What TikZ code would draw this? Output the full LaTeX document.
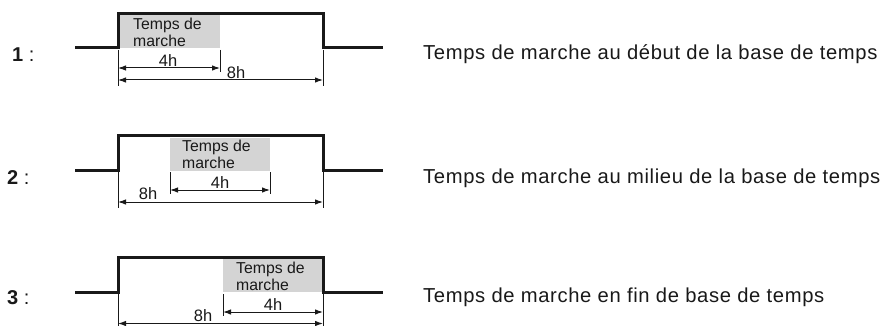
\documentclass[tikz,border=0pt]{standalone}
\usepackage{fontspec}
\setmainfont{Liberation Sans}
\usetikzlibrary{arrows.meta}
\definecolor{boxgray}{RGB}{212,212,212}
\definecolor{ink}{RGB}{25,25,25}
\tikzset{
  pulse/.style={line width=3pt, ink, line join=miter},
  tick/.style={line width=0.9pt, ink},
  dim/.style={line width=1pt, ink, {Latex[length=8pt,width=5.5pt]}-{Latex[length=8pt,width=5.5pt]}},
  boxtxt/.style={anchor=west, align=left, inner sep=0pt, text=ink, font=\fontsize{15.8}{17}\selectfont},
  dimlbl/.style={inner sep=0pt, text=ink, font=\fontsize{16.5}{18}\selectfont},
  rowlbl/.style={anchor=west, inner sep=0pt, text=ink, font=\fontsize{20}{22}\selectfont},
  desc/.style={anchor=west, inner sep=0pt, text=ink, font=\fontsize{20.2}{22}\selectfont\addfontfeature{LetterSpace=3.2}}
}
\begin{document}
\begin{tikzpicture}[x=1pt,y=-1pt]
\useasboundingbox (0,0) rectangle (882,326);

% ---------- Row 1 ----------
\fill[boxgray] (118,15) rectangle (220,48);
\node[boxtxt] (t1) at (133,32.5) {Temps de\\marche};
\draw[pulse] (75,48) -- (118,48) -- (118,14) -- (323,14) -- (323,48) -- (383,48);
\coordinate (a1s) at (118,50); \coordinate (a1e) at (118,86);
\coordinate (b1s) at (220,50); \coordinate (b1e) at (220,72);
\coordinate (c1s) at (323,50); \coordinate (c1e) at (323,86);
\draw[tick] (a1s) -- (a1e);
\draw[tick] (b1s) -- (b1e);
\draw[tick] (c1s) -- (c1e);
\coordinate (p1a) at (118,68); \coordinate (p1b) at (220,68);
\coordinate (q1a) at (118,80); \coordinate (q1b) at (323,80);
\draw[dim] (p1a) -- (p1b);
\draw[dim] (q1a) -- (q1b);
\node[dimlbl] (h41) at (168,61) {4h};
\node[dimlbl] (h81) at (236,73) {8h};
\node[rowlbl] (n1) at (12,55) {\textbf{1} :};
\node[desc] (d1) at (423,54.5) {Temps de marche au début de la base de temps};

% ---------- Row 2 ----------
\fill[boxgray] (170,138) rectangle (270,171);
\node[boxtxt] (t2) at (182,154) {Temps de\\marche};
\draw[pulse] (75,170) -- (118,170) -- (118,135) -- (323,135) -- (323,170) -- (383,170);
\coordinate (a2s) at (118,172); \coordinate (a2e) at (118,208);
\coordinate (b2s) at (170,172); \coordinate (b2e) at (170,194);
\coordinate (e2s) at (270,172); \coordinate (e2e) at (270,194);
\coordinate (c2s) at (323,172); \coordinate (c2e) at (323,208);
\draw[tick] (a2s) -- (a2e);
\draw[tick] (b2s) -- (b2e);
\draw[tick] (e2s) -- (e2e);
\draw[tick] (c2s) -- (c2e);
\coordinate (p2a) at (170,190); \coordinate (p2b) at (270,190);
\coordinate (q2a) at (118,202); \coordinate (q2b) at (323,202);
\draw[dim] (p2a) -- (p2b);
\draw[dim] (q2a) -- (q2b);
\node[dimlbl] (h42) at (220,183) {4h};
\node[dimlbl] (h82) at (148,194) {8h};
\node[rowlbl] (n2) at (7,178) {\textbf{2} :};
\node[desc] (d2) at (423,178) {Temps de marche au milieu de la base de temps};

% ---------- Row 3 ----------
\fill[boxgray] (223,258) rectangle (323,292);
\node[boxtxt] (t3) at (236,276) {Temps de\\marche};
\draw[pulse] (75,292) -- (118,292) -- (118,257) -- (323,257) -- (323,292) -- (383,292);
\coordinate (a3s) at (118,294); \coordinate (a3e) at (118,326);
\coordinate (b3s) at (223,294); \coordinate (b3e) at (223,316);
\coordinate (c3s) at (323,294); \coordinate (c3e) at (323,326);
\draw[tick] (a3s) -- (a3e);
\draw[tick] (b3s) -- (b3e);
\draw[tick] (c3s) -- (c3e);
\coordinate (p3a) at (223,312); \coordinate (p3b) at (323,312);
\coordinate (q3a) at (118,323.5); \coordinate (q3b) at (323,323.5);
\draw[dim] (p3a) -- (p3b);
\draw[dim] (q3a) -- (q3b);
\node[dimlbl] (h43) at (273,305) {4h};
\node[dimlbl] (h83) at (203,316) {8h};
\node[rowlbl] (n3) at (7,298) {\textbf{3} :};
\node[desc] (d3) at (423,297.5) {Temps de marche en fin de base de temps};
\end{tikzpicture}
\end{document}
